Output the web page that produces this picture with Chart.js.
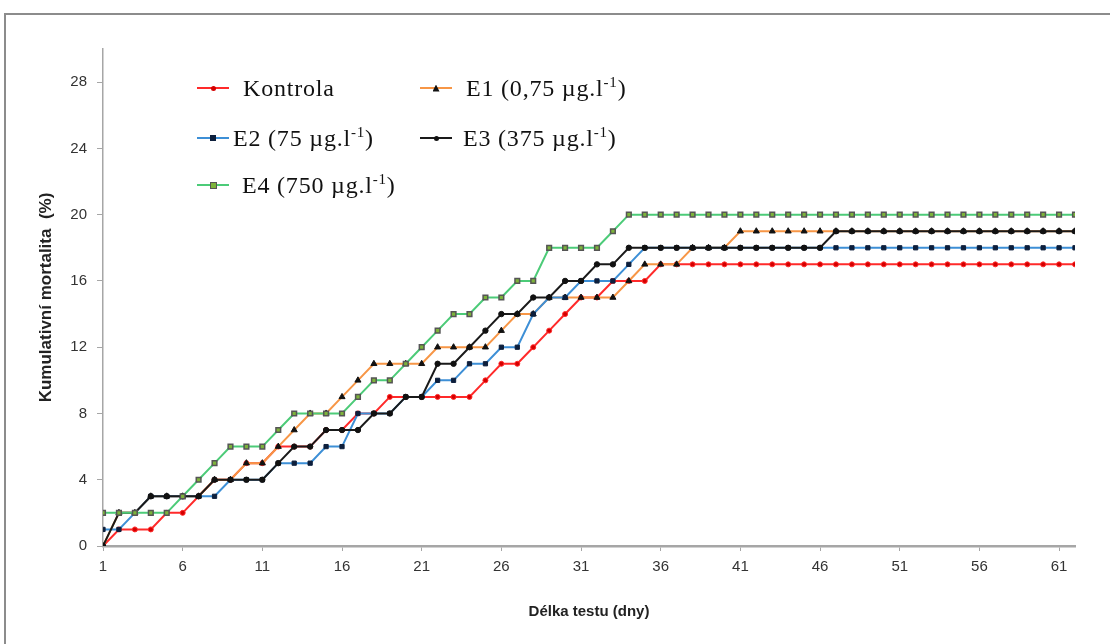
<!DOCTYPE html>
<html lang="cs">
<head>
  <meta charset="UTF-8">
  <title>Kumulativní mortalita</title>
  <script src="https://cdn.jsdelivr.net/npm/chart.js@4.4.1/dist/chart.umd.min.js"></script>
  <style>
    html, body { margin: 0; padding: 0; background: #fff; }
    #wrap { position: relative; width: 1110px; height: 644px; overflow: hidden; }
    #frame { position: absolute; left: 4px; top: 13px; width: 1200px; height: 700px;
             border-top: 2px solid #8c8c8c; border-left: 2px solid #8c8c8c; }
    #chart { position: absolute; left: 0; top: 0; }
    #legend { position: absolute; left: 0; top: 0; font-family: "Liberation Serif", serif;
              font-size: 24px; color: #111; letter-spacing: 0.8px; }
    .item { position: absolute; height: 30px; line-height: 30px; white-space: nowrap; }
    .swatch { position: absolute; left: 0; top: 14px; width: 32px; height: 2px; }
    .mark { position: absolute; }
    .txt { position: absolute; top: 0; }
    sup { font-size: 15px; vertical-align: 9px; line-height: 0; }
  </style>
</head>
<body>
  <div id="wrap">
    <div id="frame"></div>
    <canvas id="chart" width="1110" height="644"></canvas>
    <div id="legend"></div>
  </div>
  <script>
    // dny testu
    const days = [1, 2, 3, 4, 5, 6, 7, 8, 9, 10, 11, 12, 13, 14, 15, 16, 17, 18, 19, 20,
      21, 22, 23, 24, 25, 26, 27, 28, 29, 30, 31, 32, 33, 34, 35, 36, 37, 38, 39, 40,
      41, 42, 43, 44, 45, 46, 47, 48, 49, 50, 51, 52, 53, 54, 55, 56, 57, 58, 59, 60, 61, 62];
    const xTickValues = [1, 6, 11, 16, 21, 26, 31, 36, 41, 46, 51, 56, 61];
    const yTickValues = [0, 4, 8, 12, 16, 20, 24, 28];
    const seriesNames = ['Kontrola', 'E1 (0,75 µg.l-1)', 'E2 (75 µg.l-1)', 'E3 (375 µg.l-1)', 'E4 (750 µg.l-1)'];

    // kumulativni mortalita (%)
    const kontrola = [0, 1, 1, 1, 2, 2, 3, 4, 4, 5, 5, 6, 6, 6, 7, 7,
      8, 8, 9, 9, 9, 9, 9, 9, 10, 11, 11, 12, 13, 14, 15, 15, 16, 16, 16,
      17, 17, 17, 17, 17, 17, 17, 17, 17, 17, 17, 17, 17, 17, 17, 17, 17, 17, 17, 17, 17, 17, 17, 17, 17, 17, 17];
    const e1 = [0, 2, 2, 3, 3, 3, 3, 4, 4, 5, 5, 6, 7, 8, 8, 9,
      10, 11, 11, 11, 11, 12, 12, 12, 12, 13, 14, 14, 15, 15, 15, 15, 15,
      16, 17, 17, 17, 18, 18, 18,
      19, 19, 19, 19, 19, 19, 19, 19, 19, 19, 19, 19, 19, 19, 19, 19, 19, 19, 19, 19, 19, 19];
    const e2 = [1, 1, 2, 3, 3, 3, 3, 3, 4, 4, 4, 5, 5, 5, 6, 6,
      8, 8, 8, 9, 9, 10, 10, 11, 11, 12, 12, 14, 15, 15, 16, 16, 16, 17,
      18, 18, 18, 18, 18, 18, 18, 18, 18, 18, 18, 18, 18, 18, 18, 18, 18, 18, 18, 18, 18, 18, 18, 18, 18, 18, 18, 18];
    const e3 = [0, 2, 2, 3, 3, 3, 3, 4, 4, 4, 4, 5, 6, 6, 7, 7,
      7, 8, 8, 9, 9, 11, 11, 12, 13, 14, 14, 15, 15, 16, 16, 17, 17,
      18, 18, 18, 18, 18, 18, 18, 18, 18, 18, 18, 18, 18,
      19, 19, 19, 19, 19, 19, 19, 19, 19, 19, 19, 19, 19, 19, 19, 19];
    const e4 = [2, 2, 2, 2, 2, 3, 4, 5, 6, 6, 6, 7, 8, 8, 8, 8,
      9, 10, 10, 11, 12, 13, 14, 14, 15, 15, 16, 16, 18, 18, 18, 18, 19,
      20, 20, 20, 20, 20, 20, 20, 20, 20, 20, 20, 20, 20, 20, 20, 20, 20, 20, 20, 20, 20, 20, 20, 20, 20, 20, 20, 20, 20];

    const sansFont = 'Liberation Sans, Arial, sans-serif';

    function points(values) {
      return days.map((d, i) => ({ x: d, y: values[i] }));
    }

    function series(i, values, line, style, radius, fill, edge, edgeWidth) {
      return {
        label: seriesNames[i],
        data: points(values),
        borderColor: line,
        backgroundColor: line,
        borderWidth: 2,
        pointStyle: style,
        pointRadius: radius,
        pointBackgroundColor: fill,
        pointBorderColor: edge,
        pointBorderWidth: edgeWidth,
        tension: 0,
        order: 5 - i // E4 nahore, kontrola dole
      };
    }

    const datasets = [
      series(0, kontrola, '#ff2a2a', 'circle', 2.5, '#d40000', '#ff2a2a', 1),
      series(1, e1, '#f79646', 'triangle', 3.5, '#111111', '#111111', 1),
      series(2, e2, '#3d8fd6', 'rect', 3, '#0d1f3c', '#0d1f3c', 1),
      series(3, e3, '#1a1a1a', 'circle', 2.7, '#111111', '#111111', 1),
      series(4, e4, '#4ccb78', 'rect', 3.3, '#7db33a', '#555555', 1.5)
    ];

    const chart = new Chart(document.getElementById('chart'), {
      type: 'line',
      data: { datasets: datasets },
      options: {
        responsive: false,
        animation: false,
        layout: { padding: { left: 36, top: 49, right: 35, bottom: 0 } },
        plugins: { legend: { display: false }, tooltip: { enabled: false } },
        scales: {
          x: {
            type: 'linear',
            min: 1,
            max: 62,
            afterBuildTicks: (s) => { s.ticks = xTickValues.map((v) => ({ value: v })); },
            afterFit: (s) => { s.height = 98; },
            border: { color: '#a6a6a6', width: 2.5 },
            grid: { drawOnChartArea: false, tickLength: 5, color: '#a6a6a6' },
            ticks: { padding: 7, autoSkip: false, maxRotation: 0, color: '#333',
                     font: { family: sansFont, size: 15 } },
            title: { display: true, text: 'Délka testu (dny)', color: '#222',
                     font: { family: sansFont, size: 15, weight: 'bold' },
                     padding: { top: 0, bottom: 23 } }
          },
          y: {
            min: 0,
            max: 30,
            afterBuildTicks: (s) => { s.ticks = yTickValues.map((v) => ({ value: v })); },
            afterFit: (s) => { s.width = 67; },
            border: { color: '#a6a6a6', width: 1.5 },
            grid: { drawOnChartArea: false, tickLength: 6, color: '#a6a6a6' },
            ticks: { padding: 10, color: '#333', font: { family: sansFont, size: 15 } },
            title: { display: true, text: 'Kumulativní mortalita  (%)', color: '#222',
                     font: { family: sansFont, size: 17, weight: 'bold' },
                     padding: { top: 0, bottom: 0 } }
          }
        }
      }
    });

    // legenda uvnitr grafu (2 sloupce), horni index "-1" jako <sup>
    const legendSpots = [
      { swatch: 197, text: 243, y: 88 },
      { swatch: 420, text: 466, y: 88 },
      { swatch: 197, text: 233, y: 138 },
      { swatch: 420, text: 463, y: 138 },
      { swatch: 197, text: 242, y: 185 }
    ];

    function buildLegend(ch) {
      const box = document.getElementById('legend');
      ch.data.datasets.forEach((ds, i) => {
        const spot = legendSpots[i];
        const item = document.createElement('div');
        item.className = 'item';
        item.style.left = spot.swatch + 'px';
        item.style.top = (spot.y - 15) + 'px';

        const sw = document.createElement('div');
        sw.className = 'swatch';
        sw.style.background = ds.borderColor;
        item.appendChild(sw);

        const mk = document.createElement('div');
        mk.className = 'mark';
        const size = Math.round(ds.pointRadius * 2);
        mk.style.width = size + 'px';
        mk.style.height = size + 'px';
        mk.style.left = (16 - size / 2) + 'px';
        mk.style.top = (15 - size / 2) + 'px';
        mk.style.background = ds.pointBackgroundColor;
        if (ds.pointStyle === 'circle') mk.style.borderRadius = '50%';
        if (ds.pointStyle === 'triangle') mk.style.clipPath = 'polygon(50% 0, 100% 100%, 0 100%)';
        if (ds.pointStyle === 'rect' && ds.pointBorderWidth > 1) {
          mk.style.boxSizing = 'border-box';
          mk.style.border = '1.5px solid ' + ds.pointBorderColor;
        }
        item.appendChild(mk);

        const txt = document.createElement('span');
        txt.className = 'txt';
        txt.style.left = (spot.text - spot.swatch) + 'px';
        txt.innerHTML = ds.label.replace('l-1', 'l<sup>-1</sup>');
        item.appendChild(txt);

        box.appendChild(item);
      });
    }

    buildLegend(chart);
  </script>
</body>
</html>
